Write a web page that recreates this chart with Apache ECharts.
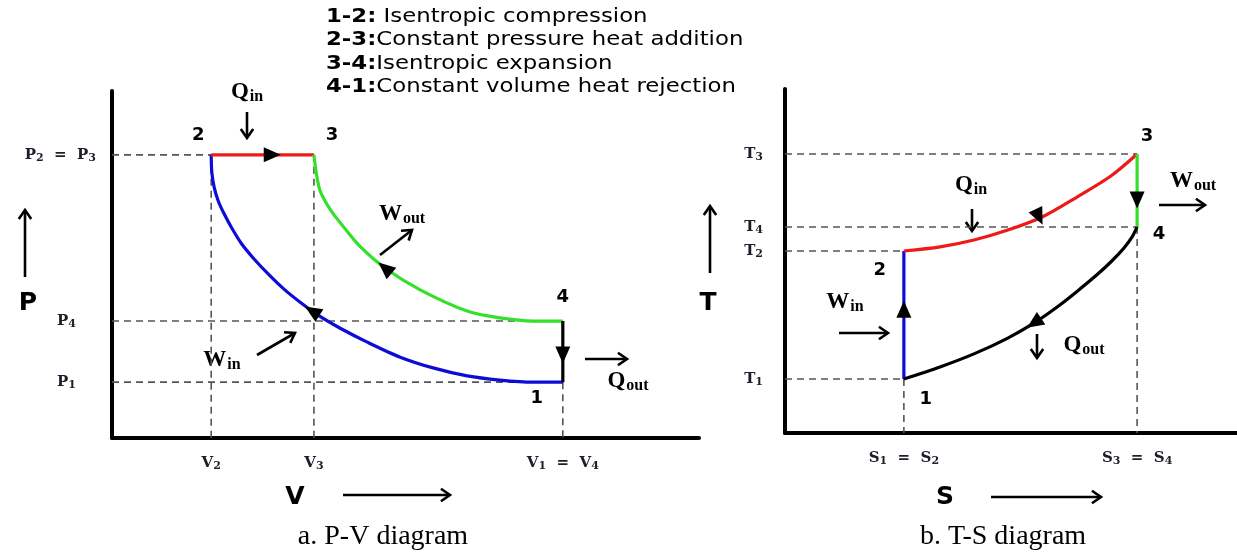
<!DOCTYPE html>
<html>
<head>
<meta charset="utf-8">
<script src="https://cdn.jsdelivr.net/npm/echarts@6/dist/echarts.min.js"></script>
<style>
  html, body { margin: 0; background: #fff; }
  #main { width: 1237px; height: 552px; }
</style>
</head>
<body>
<div id="main"></div>
<script>
// values, arbitrary units (0..100 on every axis)

// process legend
const processKeys = ['1-2:', '2-3:', '3-4:', '4-1:'];
const processNames = ['Isentropic compression', 'Constant pressure heat addition',
                      'Isentropic expansion', 'Constant volume heat rejection'];

// ---- P-V diagram ----
const pvStateNames = ['1', '2', '3', '4'];
const pvStateV = [76.8, 16.9, 34.4, 76.8];
const pvStateP = [16.1, 81.6, 81.6, 33.7];
const pvXTicks = [16.9, 34.4, 76.8];
const pvXTickLabels = ['V₂', 'V₃', 'V₁ = V₄'];
const pvYTicks = [81.6, 33.7, 16.1];
const pvYTickLabels = ['P₂ = P₃', 'P₄', 'P₁'];
// 1 -> 2 isentropic compression
const pvCompression = [[76.8, 16.1], [71.7, 16.1], [66.1, 16.7], [60.5, 17.9], [54.7, 20.2],
  [49.1, 23.3], [43.4, 27.7], [38.8, 31.7], [35.1, 35.4], [32.0, 39.2], [29.3, 42.9],
  [26.6, 47.3], [24.2, 51.6], [22.1, 55.9], [20.4, 60.5], [19.1, 64.6], [18.1, 68.3],
  [17.4, 72.3], [17.0, 76.7], [16.9, 81.6]];
// 2 -> 3 constant pressure
const pvHeatAddition = [[16.9, 81.6], [34.4, 81.6]];
// 3 -> 4 isentropic expansion
const pvExpansion = [[34.4, 81.6], [34.8, 76.4], [35.4, 71.5], [36.5, 67.7], [37.6, 64.8],
  [39.9, 59.9], [42.2, 55.3], [46.5, 49.0], [52.5, 42.7], [60.5, 36.6], [66.1, 34.6],
  [71.7, 33.7], [76.8, 33.7]];
// 4 -> 1 constant volume
const pvHeatRejection = [[76.8, 33.7], [76.8, 16.1]];
// direction arrows on the cycle: [v, p, angle]
const pvArrows = [[27.3, 81.6, -90], [34.1, 36.6, 58], [46.5, 49.0, 50], [76.8, 23.9, 180]];

// ---- T-S diagram ----
const tsStateNames = ['1', '2', '3', '4'];
const tsStateS = [26.3, 26.3, 77.9, 77.9];
const tsStateT = [15.7, 52.9, 81.1, 59.9];
const tsXTicks = [26.3, 77.9];
const tsXTickLabels = ['S₁ = S₂', 'S₃ = S₄'];
const tsYTicks = [81.1, 59.9, 52.9, 15.7];
const tsYTickLabels = ['T₃', 'T₄', 'T₂', 'T₁'];
const tsCompression = [[26.3, 15.7], [26.3, 52.9]];
const tsHeatAddition = [[26.3, 52.9], [34.3, 54.1], [41.8, 56.1], [49.3, 59.0], [56.9, 62.8],
  [64.6, 68.6], [72.1, 74.7], [77.9, 81.1]];
const tsExpansion = [[77.9, 81.1], [77.9, 59.9]];
const tsHeatRejection = [[77.9, 59.9], [76.8, 57.0], [75.0, 53.8], [72.3, 50.0], [69.2, 46.2],
  [65.3, 41.9], [60.8, 37.2], [55.5, 32.3], [49.3, 27.6], [41.8, 23.0], [34.3, 19.2], [26.3, 15.7]];
const tsArrows = [[56.2, 62.8, 205], [77.9, 67.7, 180], [26.3, 36.0, 0], [55.1, 32.0, 124]];

// ---- styles ----
const RED = '#ee1a1a', BLUE = '#0c0cd6', GREEN = '#35e02a', INK = '#000';
const tickMain = { fontFamily: 'DejaVu Serif', fontWeight: 'bold', fontSize: 15, color: '#1d1d2b' };
const tickSub = { fontFamily: 'DejaVu Serif', fontWeight: 'bold', fontSize: 11, color: '#1d1d2b', padding: [7, 0, 0, 0] };
const pvNumOffsets = [[-26, 16], [-13, -20], [18, -20], [0, -24]];
const tsNumOffsets = [[22, 20], [-24, 19], [10, -18], [22, 7]];

const chart = echarts.init(document.getElementById('main'));

// turn 'P₂ = P₃' into rich tokens with real subscripts
const SUBS = { '₁': '1', '₂': '2', '₃': '3', '₄': '4' };
function richTick(s, pad) {
  let out = '';
  for (const ch of s) {
    if (SUBS[ch]) out += '{s|' + SUBS[ch] + '}';
    else if (ch === '=') out += '{m|  =  }';
    else if (ch !== ' ') out += '{m|' + ch + '}';
  }
  return pad ? out + '{p|}' : out;
}
const tickRich = { m: tickMain, s: tickSub, p: { width: 20 } };

function xAxisFor(gi, ticks, labels) {
  return {
    type: 'value', gridIndex: gi, min: 0, max: 100,
    axisLine: { show: true, onZero: false, lineStyle: { color: '#000', width: 4 } },
    axisTick: { show: false }, splitLine: { show: false },
    axisLabel: { customValues: ticks, margin: 16, rich: tickRich,
      formatter: v => richTick(labels[ticks.indexOf(v)] || '') }
  };
}
function yAxisFor(gi, ticks, labels, margin, padFrom) {
  return {
    type: 'value', gridIndex: gi, min: 0, max: 100,
    axisLine: { show: true, onZero: false, lineStyle: { color: '#000', width: 4 } },
    axisTick: { show: false }, splitLine: { show: false },
    axisLabel: { customValues: ticks, margin: margin, rich: tickRich,
      formatter: v => { const i = ticks.indexOf(v); return richTick(labels[i] || '', i >= padFrom); } }
  };
}

function curve(gi, data, color) {
  return { type: 'line', xAxisIndex: gi, yAxisIndex: gi, data: data, showSymbol: false,
    smooth: 0.3, lineStyle: { color: color, width: 3.2 }, z: 5, silent: true };
}
function guide(gi, a, b) {
  return { type: 'line', xAxisIndex: gi, yAxisIndex: gi, data: [a, b], showSymbol: false,
    lineStyle: { color: '#555', width: 1.6, type: [7, 5] }, z: 2, silent: true };
}
function arrowMarks(gi, arr) {
  return { type: 'scatter', xAxisIndex: gi, yAxisIndex: gi, symbol: 'triangle',
    symbolSize: [15, 17], itemStyle: { color: '#000', opacity: 1 }, z: 8,
    data: arr.map(a => ({ value: [a[0], a[1]], symbolRotate: a[2] })) };
}
function stateNums(gi, names, xs, ys, offs) {
  return { type: 'scatter', xAxisIndex: gi, yAxisIndex: gi, symbolSize: 0, z: 9,
    itemStyle: { opacity: 1 },
    data: names.map((n, i) => ({ name: n, value: [xs[i], ys[i]],
      label: { show: true, position: 'inside', offset: offs[i], formatter: n,
        fontFamily: 'DejaVu Sans', fontWeight: 'bold', fontSize: 18, color: '#000',
        textBorderWidth: 0 } })) };
}

// dashed guides, built from the state points
const [v1, v2, v3, v4] = pvStateV, [p1, p2, p3, p4] = pvStateP;
const [s1, s2, s3, s4] = tsStateS, [t1, t2, t3, t4] = tsStateT;
const pvGuides = [[[0, p2], [v2, p2]], [[0, p4], [v4, p4]], [[0, p1], [v1, p1]],
  [[v2, p2], [v2, 0]], [[v3, p3], [v3, 0]], [[v1, p1], [v1, 0]]];
const tsGuides = [[[0, t3], [s3, t3]], [[0, t4], [s4, t4]], [[0, t2], [s2, t2]],
  [[0, t1], [s1, t1]], [[s1, t1], [s1, 0]], [[s4, t4], [s4, 0]]];

// annotation helpers (pixel space)
function arrow(x1, y1, x2, y2) {
  const ang = Math.atan2(y2 - y1, x2 - x1), L = 11, a = 0.6;
  const h1 = [x2 - L * Math.cos(ang - a), y2 - L * Math.sin(ang - a)];
  const h2 = [x2 - L * Math.cos(ang + a), y2 - L * Math.sin(ang + a)];
  return [
    { type: 'line', shape: { x1, y1, x2, y2 }, style: { stroke: '#000', lineWidth: 2.6 } },
    { type: 'polyline', shape: { points: [h1, [x2, y2], h2] }, style: { stroke: '#000', lineWidth: 2.6, fill: null } }
  ];
}
const symRich = {
  m: { fontFamily: 'Liberation Serif', fontWeight: 'bold', fontSize: 23, color: INK, lineHeight: 26 },
  s: { fontFamily: 'Liberation Serif', fontWeight: 'bold', fontSize: 16, color: INK, lineHeight: 26, padding: [10, 0, 0, 1] }
};
function sym(x, y, main, sub) {
  return { type: 'text', x, y, style: { text: '{m|' + main + '}{s|' + sub + '}', rich: symRich,
    align: 'center', verticalAlign: 'middle' } };
}
function plain(x, y, txt, font) {
  return { type: 'text', x, y, style: { text: txt, font: font, fill: INK, align: 'center', verticalAlign: 'middle' } };
}

const graphics = [];
processKeys.forEach((k, i) => {
  graphics.push({ type: 'text', x: 326, y: 17 + i * 23.3, scaleX: 1.2, style: {
    text: '{b|' + k + '}{n|' + (i === 0 ? ' ' : '') + processNames[i] + '}',
    rich: { b: { fontFamily: 'DejaVu Sans', fontWeight: 'bold', fontSize: 19, color: '#1a1a1a' },
            n: { fontFamily: 'DejaVu Sans', fontSize: 19, color: '#1a1a1a' } },
    align: 'left', verticalAlign: 'middle' } });
});
graphics.push(
  sym(247, 92, 'Q', 'in'), ...arrow(247, 112, 247, 138),
  sym(402, 214, 'W', 'out'), ...arrow(380, 255, 412, 230),
  sym(222, 360, 'W', 'in'), ...arrow(257, 355, 295, 333),
  sym(628, 381, 'Q', 'out'), ...arrow(585, 359, 627, 359),
  plain(28, 303, 'P', 'bold 25px "DejaVu Sans"'), ...arrow(25, 277, 25, 210),
  plain(295, 497, 'V', 'bold 25px "DejaVu Sans"'), ...arrow(343, 495, 450, 495),
  plain(383, 537, 'a. P-V diagram', '28px "Liberation Serif"'),

  sym(971, 185, 'Q', 'in'), ...arrow(972, 209, 972, 231),
  sym(1193, 181, 'W', 'out'), ...arrow(1159, 205, 1205, 205),
  sym(845, 302, 'W', 'in'), ...arrow(839, 333, 888, 333),
  sym(1084, 345, 'Q', 'out'), ...arrow(1037, 334, 1037, 358),
  plain(708, 303, 'T', 'bold 25px "DejaVu Sans"'), ...arrow(710, 273, 710, 206),
  plain(945, 497, 'S', 'bold 25px "DejaVu Sans"'), ...arrow(991, 497, 1101, 497),
  plain(1003, 537, 'b. T-S diagram', '28px "Liberation Serif"')
);

const option = {
  backgroundColor: '#fff',
  animation: false,
  grid: [
    { left: 112, top: 91, width: 587, height: 347 },
    { left: 785, top: 89, width: 452, height: 344 }
  ],
  xAxis: [xAxisFor(0, pvXTicks, pvXTickLabels), xAxisFor(1, tsXTicks, tsXTickLabels)],
  yAxis: [yAxisFor(0, pvYTicks, pvYTickLabels, 16, 1), yAxisFor(1, tsYTicks, tsYTickLabels, 22, 99)],
  series: [
    ...pvGuides.map(g => guide(0, g[0], g[1])),
    ...tsGuides.map(g => guide(1, g[0], g[1])),
    curve(0, pvCompression, BLUE),
    curve(0, pvHeatAddition, RED),
    curve(0, pvExpansion, GREEN),
    curve(0, pvHeatRejection, '#000'),
    curve(1, tsCompression, BLUE),
    curve(1, tsHeatAddition, RED),
    curve(1, tsExpansion, GREEN),
    curve(1, tsHeatRejection, '#000'),
    arrowMarks(0, pvArrows),
    arrowMarks(1, tsArrows),
    stateNums(0, pvStateNames, pvStateV, pvStateP, pvNumOffsets),
    stateNums(1, tsStateNames, tsStateS, tsStateT, tsNumOffsets)
  ],
  graphic: graphics
};

chart.setOption(option);
</script>
</body>
</html>
